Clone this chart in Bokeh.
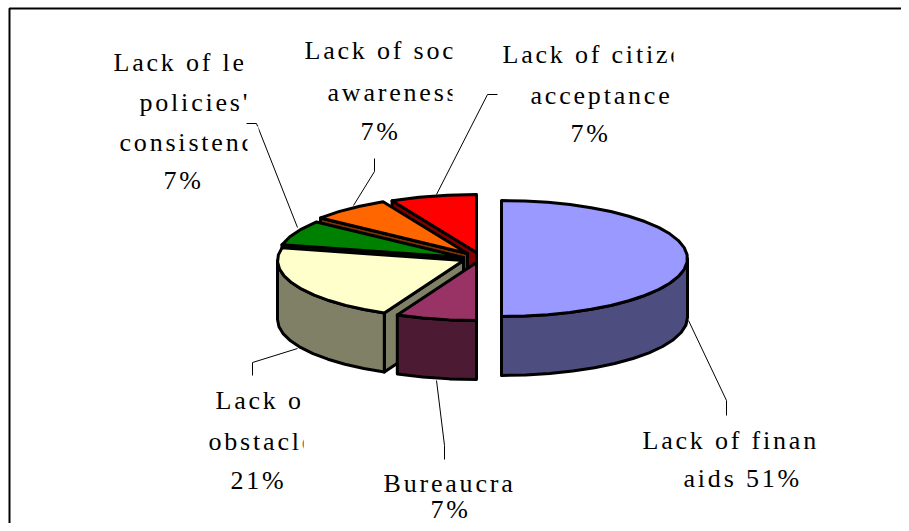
import math
from bokeh.plotting import figure
from bokeh.embed import file_html
from bokeh.resources import INLINE
from bokeh.core.properties import value
from bokeh.models import Range1d

# --- data ---
categories = ["Lack of financial aids", "Bureaucracy", "Lack of obstacles",
              "Lack of legal policies' consistency", "Lack of social awareness",
              "Lack of citizen acceptance"]
printed_percent = [51, 7, 21, 7, 7, 7]
# angular shares as actually drawn in the picture (percent of the turn)
drawn_share = [50, 7, 21.5, 7, 7, 7.5]
top_colors = ["#9999FF", "#993366", "#FFFFCC", "#008000", "#FF6600", "#FF0000"]
side_colors = ["#4D4D80", "#4D1A33", "#808066", "#004000", "#803300", "#800000"]
label_lines = [
    ["Lack of finan", "aids 51%"],
    ["Bureaucra", "7%"],
    ["Lack o", "obstacle", "21%"],
    ["Lack of le", "policies'", "consistenc", "7%"],
    ["Lack of soc", "awareness", "7%"],
    ["Lack of citize", "acceptance", "7%"],
]

# --- layout ---
W, H = 901, 523
RX, RY, DEPTH = 186, 58, 59
apex = [(501, 258), (476, 262), (463, 260), (463, 257), (467, 253), (476, 252)]
label_pos = [
    [(642, 440), (683, 478)],
    [(383, 483), (430, 509)],
    [(215, 400), (208, 441), (230, 480)],
    [(113, 62), (139, 102), (119, 142), (163, 180)],
    [(304, 50), (327, 92), (360, 131)],
    [(502, 54), (530, 95), (570, 133)],
]
leaders = [
    [(688, 320), (726, 400), (726, 415)],
    [(436, 380), (444, 445), (444, 459)],
    [(297, 348), (252, 362), (252, 375)],
    [(297, 227), (256, 123), (246, 123)],
    [(353, 205), (374, 171), (374, 158)],
    [(436, 194), (487, 94), (497, 94)],
]
masks = [(243, 48, 262, 78), (247, 126, 258, 158), (452, 34, 472, 68), (452, 76, 472, 110),
         (673, 38, 700, 72), (673, 78, 700, 112), (303, 425, 322, 458), (300, 385, 320, 415)]

p = figure(width=W, height=H, output_backend="svg", toolbar_location=None,
           x_range=Range1d(0, W), y_range=Range1d(H, 0),
           min_border=0, outline_line_color=None)
p.axis.visible = False
p.grid.visible = False
p.styles = {"letter-spacing": "2.8px"}

# frame
p.line([9, 9, W], [H, 8, 8], line_color="black", line_width=2)

def pt(c, t, dy=0):
    a = math.radians(t)
    return c[0] + RX * math.sin(a), c[1] - RY * math.cos(a) + dy

def arc(c, t0, t1, dy=0, step=7.0):
    n = max(2, int(abs(t1 - t0) / step) + 1)
    return [pt(c, t0 + (t1 - t0) * i / (n - 1), dy) for i in range(n)]

def poly(points, fill):
    p.patch([q[0] for q in points], [q[1] for q in points], fill_color=fill,
            line_color="black", line_width=3, line_join="round")

# slice start / end angles from the shares
bounds = [0.0]
for s in drawn_share:
    bounds.append(bounds[-1] + s * 3.6)

# draw from the back slices to the front ones
for i in [5, 4, 3, 2, 1, 0]:
    c, t0, t1 = apex[i], bounds[i], bounds[i + 1]
    if t0 > 180:
        rim = pt(c, t0)
        poly([c, rim, (rim[0], rim[1] + DEPTH), (c[0], c[1] + DEPTH)], side_colors[i])
    w0, w1 = max(t0, 90), min(t1, 270)
    if w1 > w0:
        poly(arc(c, w0, w1) + arc(c, w1, w0, DEPTH), side_colors[i])
    poly([c] + arc(c, t0, t1), top_colors[i])

# leader lines
for path in leaders:
    p.line([q[0] for q in path], [q[1] for q in path], line_color="black", line_width=1)

# labels
for lines, pos in zip(label_lines, label_pos):
    p.text(x=[q[0] for q in pos], y=[q[1] for q in pos], text=lines,
           text_font=value("Liberation Serif"), text_font_size="26px",
           text_color="black", text_align="left", text_baseline="middle")

# the reference's clipped label ends
p.quad(left=[m[0] for m in masks], top=[m[1] for m in masks],
       right=[m[2] for m in masks], bottom=[m[3] for m in masks],
       fill_color="white", line_color=None)

open("out.html", "w").write(file_html(p, INLINE))
